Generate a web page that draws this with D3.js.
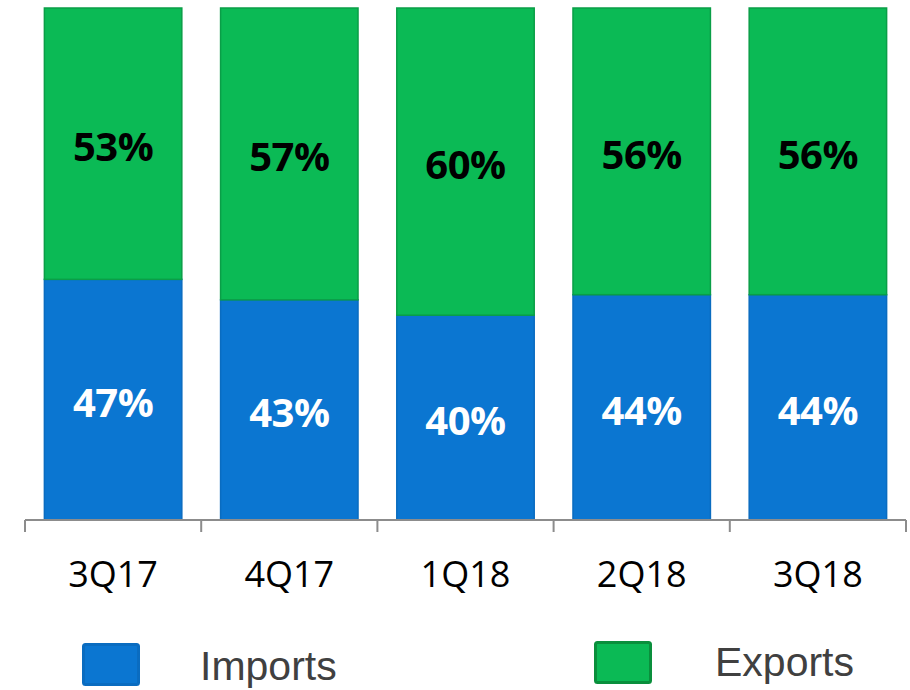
<!DOCTYPE html>
<html>
<head>
<meta charset="utf-8">
<script src="https://cdn.jsdelivr.net/npm/d3@7"></script>
<style>
	body { margin: 0; background: #fff; }
	svg { display: block; }
</style>
</head>
<body>
<div id="chart"></div>
<script>
// Chart data
const quarters = [ '3Q17', '4Q17', '1Q18', '2Q18', '3Q18' ];
const imports = [ 47, 43, 40, 44, 44 ];
const exports = [ 53, 57, 60, 56, 56 ];
const seriesNames = [ 'Imports', 'Exports' ];

const width = 910;
const height = 690;
const colors = { Imports: '#0B76D1', Exports: '#0BBA55' };
const borders = { Imports: '#0A6CC0', Exports: '#0A9E47' };

const svg = d3.select( '#chart' )
	.append( 'svg' )
	.attr( 'width', width )
	.attr( 'height', height );

const x = d3.scaleBand()
	.domain( quarters )
	.range( [ 25, 906 ] )
	.paddingInner( 0.22 )
	.paddingOuter( 0.11 );

const y = d3.scaleLinear()
	.domain( [ 0, 100 ] )
	.range( [ 520, 8 ] );

const rows = quarters.map( ( q, i ) => ( { quarter: q, Imports: imports[ i ], Exports: exports[ i ] } ) );
const stacked = d3.stack().keys( seriesNames )( rows );

const layers = svg.selectAll( 'g.layer' )
	.data( stacked )
	.enter()
	.append( 'g' )
	.attr( 'class', 'layer' );

layers.selectAll( 'rect' )
	.data( ( s ) => s.map( ( d ) => ( { key: s.key, d } ) ) )
	.enter()
	.append( 'rect' )
	.attr( 'x', ( e ) => x( e.d.data.quarter ) )
	.attr( 'y', ( e ) => y( e.d[ 1 ] ) )
	.attr( 'width', x.bandwidth() )
	.attr( 'height', ( e ) => y( e.d[ 0 ] ) - y( e.d[ 1 ] ) )
	.attr( 'fill', ( e ) => colors[ e.key ] )
	.attr( 'stroke', ( e ) => borders[ e.key ] )
	.attr( 'stroke-width', 1.5 );

layers.selectAll( 'text' )
	.data( ( s ) => s.map( ( d ) => ( { key: s.key, d } ) ) )
	.enter()
	.append( 'text' )
	.attr( 'x', ( e ) => x( e.d.data.quarter ) + x.bandwidth() / 2 )
	.attr( 'y', ( e ) => ( y( e.d[ 0 ] ) + y( e.d[ 1 ] ) ) / 2 + 3 )
	.attr( 'dy', '0.36em' )
	.attr( 'text-anchor', 'middle' )
	.style( 'font-family', '"Open Sans", sans-serif' )
	.style( 'font-weight', 'bold' )
	.style( 'font-size', '40px' )
	.style( 'letter-spacing', '-0.5px' )
	.style( 'fill', ( e ) => e.key === 'Imports' ? '#fff' : '#000' )
	.text( ( e ) => ( e.d[ 1 ] - e.d[ 0 ] ) + '%' );

// x axis with ticks at band boundaries
const axis = svg.append( 'g' );
axis.append( 'line' )
	.attr( 'x1', 25 )
	.attr( 'x2', 906 )
	.attr( 'y1', y( 0 ) )
	.attr( 'y2', y( 0 ) )
	.attr( 'stroke', '#8c8c8c' )
	.attr( 'stroke-width', 2 );

const step = ( 906 - 25 ) / quarters.length;
axis.selectAll( 'line.tick' )
	.data( d3.range( quarters.length + 1 ) )
	.enter()
	.append( 'line' )
	.attr( 'class', 'tick' )
	.attr( 'x1', ( i ) => 25 + i * step )
	.attr( 'x2', ( i ) => 25 + i * step )
	.attr( 'y1', y( 0 ) )
	.attr( 'y2', y( 0 ) + 12 )
	.attr( 'stroke', '#8c8c8c' )
	.attr( 'stroke-width', 2 );

axis.selectAll( 'text' )
	.data( quarters )
	.enter()
	.append( 'text' )
	.attr( 'x', ( q ) => x( q ) + x.bandwidth() / 2 )
	.attr( 'y', 587 )
	.attr( 'text-anchor', 'middle' )
	.style( 'font-family', '"Open Sans", sans-serif' )
	.style( 'font-size', '36px' )
	.style( 'fill', '#000' )
	.text( ( q ) => q );

// Legend
const legendPos = [ { sx: 82, tx: 200, sy: 643 }, { sx: 594, tx: 715, sy: 641 } ];
const legend = svg.selectAll( 'g.legend' )
	.data( seriesNames )
	.enter()
	.append( 'g' )
	.attr( 'class', 'legend' );

legend.append( 'rect' )
	.attr( 'x', ( d, i ) => legendPos[ i ].sx + 1.5 )
	.attr( 'y', ( d, i ) => legendPos[ i ].sy + 1.5 )
	.attr( 'width', 55 )
	.attr( 'height', 40 )
	.attr( 'rx', 2 )
	.attr( 'fill', ( d ) => colors[ d ] )
	.attr( 'stroke', ( d ) => d === 'Exports' ? '#0A8F3C' : '#0A6CC0' )
	.attr( 'stroke-width', 3 );

legend.append( 'text' )
	.attr( 'x', ( d, i ) => legendPos[ i ].tx )
	.attr( 'y', ( d, i ) => i === 0 ? 680 : 676 )
	.style( 'font-family', '"Liberation Sans", Arial, sans-serif' )
	.style( 'font-size', '41px' )
	.style( 'fill', '#404040' )
	.text( ( d ) => d );
</script>
</body>
</html>
